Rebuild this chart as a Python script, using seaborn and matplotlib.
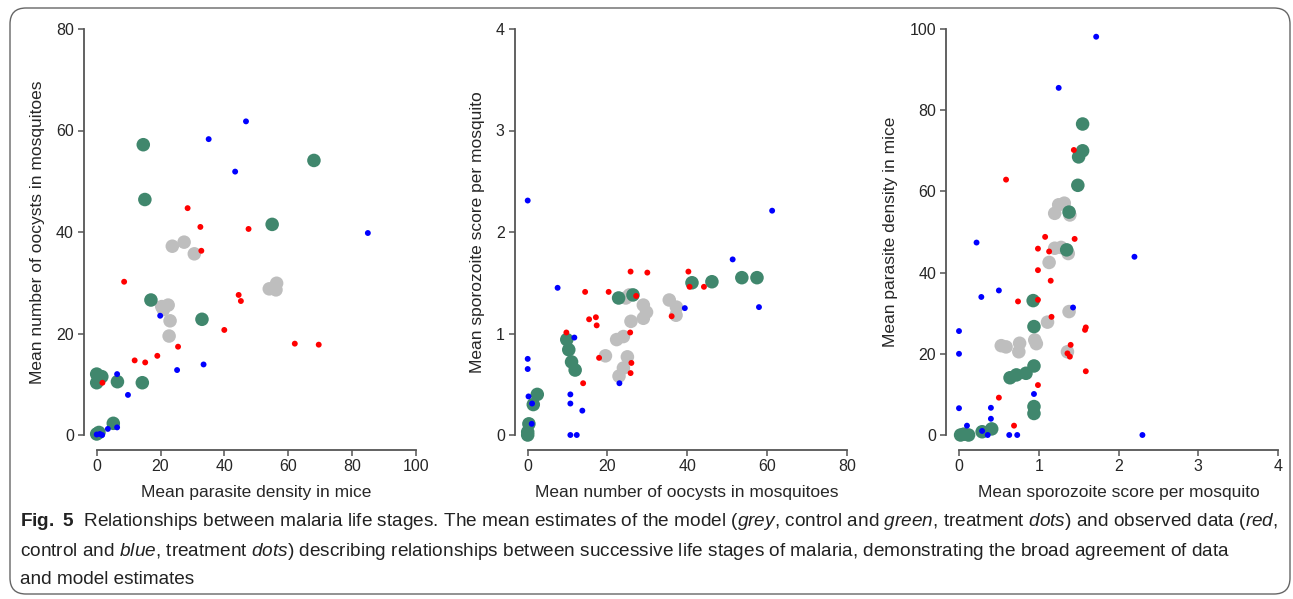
import matplotlib as mpl
mpl.use("Agg")
import matplotlib.pyplot as plt
import seaborn as sns
import pandas as pd
from matplotlib import font_manager
from matplotlib.patches import FancyBboxPatch

# panel 1: parasite density in mice (x) vs oocysts in mosquitoes (y)
p1_grey = [(23.7, 37.2), (27.4, 38.0), (30.6, 35.7), (54.1, 28.8), (56.4, 29.9), (56.2, 28.6),
           (20.4, 25.3), (22.4, 25.6), (20.9, 24.7), (23.0, 22.5), (22.7, 19.5)]
p1_green = [(14.6, 57.2), (15.1, 46.4), (68.1, 54.1), (55.0, 41.5), (17.0, 26.6), (33.0, 22.8),
            (0.0, 12.0), (1.6, 11.5), (0.0, 10.3), (6.5, 10.5), (14.3, 10.3), (5.2, 2.3),
            (0.0, 0.2), (0.7, 0.5)]
p1_red = [(28.5, 44.7), (32.5, 41.0), (47.6, 40.6), (32.8, 36.3), (8.6, 30.2), (44.5, 27.6),
          (45.2, 26.4), (40.0, 20.7), (62.1, 18.0), (69.6, 17.8), (25.5, 17.4), (19.0, 15.6),
          (11.9, 14.7), (15.2, 14.3), (1.8, 10.3)]
p1_blue = [(46.8, 61.8), (35.1, 58.3), (43.4, 51.9), (85.0, 39.8), (19.9, 23.5), (33.5, 13.9),
           (25.2, 12.8), (6.4, 12.0), (9.8, 7.9), (6.4, 1.5), (3.5, 1.2), (0.0, 0.1),
           (1.0, 0.2), (1.7, 0.0)]

# panel 2: oocysts in mosquitoes (x) vs sporozoite score (y)
p2_grey = [(24.6, 1.35), (25.5, 1.38), (29.0, 1.28), (29.8, 1.21), (29.0, 1.15), (25.9, 1.12),
           (35.5, 1.33), (37.3, 1.26), (37.2, 1.18), (24.0, 0.97), (22.3, 0.94), (19.5, 0.78),
           (25.0, 0.77), (24.0, 0.66), (22.9, 0.58)]
p2_green = [(41.2, 1.50), (46.2, 1.51), (53.7, 1.55), (57.5, 1.55), (22.8, 1.35), (26.4, 1.38),
            (9.8, 0.94), (10.3, 0.84), (11.0, 0.72), (11.9, 0.64), (2.4, 0.40), (1.4, 0.30),
            (0.3, 0.11), (0.0, 0.03), (0.0, 0.0)]
p2_red = [(25.8, 1.61), (30.0, 1.60), (40.3, 1.61), (40.6, 1.46), (44.2, 1.46), (14.4, 1.41),
          (20.3, 1.41), (27.2, 1.37), (36.1, 1.17), (15.4, 1.14), (17.1, 1.16), (17.3, 1.08),
          (9.7, 1.01), (25.7, 1.01), (17.9, 0.76), (26.0, 0.71), (25.8, 0.61), (13.9, 0.51)]
p2_blue = [(0.0, 2.31), (61.3, 2.21), (51.4, 1.73), (7.5, 1.45), (39.4, 1.25), (58.0, 1.26),
           (11.7, 0.96), (23.0, 0.51), (0.0, 0.75), (0.0, 0.65), (0.2, 0.38), (1.1, 0.31),
           (10.7, 0.40), (10.7, 0.31), (13.7, 0.24), (10.7, 0.0), (12.3, 0.0), (1.0, 0.11)]

# panel 3: sporozoite score (x) vs parasite density in mice (y)
p3_grey = [(1.20, 54.6), (1.25, 56.7), (1.32, 57.1), (1.39, 54.2), (1.20, 46.0), (1.28, 46.2),
           (1.37, 44.7), (1.13, 42.5), (1.38, 30.4), (1.11, 27.8), (0.59, 21.7), (0.53, 22.0),
           (0.76, 22.6), (0.75, 20.5), (0.95, 23.4), (0.97, 22.5), (1.36, 20.5)]
p3_green = [(1.55, 76.6), (1.55, 70.0), (1.50, 68.5), (1.49, 61.5), (1.38, 54.9), (1.35, 45.6),
            (0.93, 33.1), (0.94, 26.7), (0.94, 17.0), (0.84, 15.2), (0.72, 14.8), (0.64, 14.1),
            (0.94, 7.0), (0.94, 5.3), (0.41, 1.5), (0.29, 0.8), (0.02, 0.0), (0.12, 0.0),
            (0.06, 0.2)]
p3_red = [(1.44, 70.2), (0.59, 62.9), (1.08, 48.8), (1.45, 48.3), (0.99, 45.9), (1.13, 45.2),
          (0.99, 40.6), (1.15, 38.0), (0.74, 32.9), (0.99, 33.3), (1.16, 29.1), (1.59, 26.5),
          (1.58, 25.9), (1.40, 22.2), (1.36, 20.1), (1.39, 19.3), (1.59, 15.7), (0.99, 12.3),
          (0.50, 9.2), (0.69, 2.3)]
p3_blue = [(1.72, 98.1), (1.25, 85.5), (0.22, 47.4), (2.20, 43.9), (0.50, 35.6), (0.28, 34.0),
           (1.43, 31.4), (0.0, 25.6), (0.0, 20.0), (0.94, 10.1), (0.0, 6.6), (0.40, 6.7),
           (0.40, 4.0), (0.10, 2.3), (0.29, 1.0), (0.36, 0.0), (0.63, 0.0), (0.73, 0.0),
           (2.30, 0.0)]

x_labels = ["Mean parasite density in mice", "Mean number of oocysts in mosquitoes",
            "Mean sporozoite score per mosquito"]
y_labels = ["Mean number of oocysts in mosquitoes", "Mean sporozoite score per mosquito",
            "Mean parasite density in mice"]
x_ticks = [[0, 20, 40, 60, 80, 100], [0, 20, 40, 60, 80], [0, 1, 2, 3, 4]]
y_ticks = [[0, 20, 40, 60, 80], [0, 1, 2, 3, 4], [0, 20, 40, 60, 80, 100]]

panels = [
    {"grey": p1_grey, "green": p1_green, "red": p1_red, "blue": p1_blue},
    {"grey": p2_grey, "green": p2_green, "red": p2_red, "blue": p2_blue},
    {"grey": p3_grey, "green": p3_green, "red": p3_red, "blue": p3_blue},
]

styles = {
    "grey": dict(color="#bebebe", s=95),
    "green": dict(color="#40876d", s=95),
    "red": dict(color="#ff0000", s=18),
    "blue": dict(color="#0000ff", s=18),
}

sns.set_style("ticks")
plt.rcParams['font.family'] = ['Liberation Sans', 'DejaVu Sans']

fig = plt.figure(figsize=(12.93, 5.99), dpi=100)
W, H = 1293, 599
lefts = [96.7, 527.7, 959.0]
ax_w = 319.0
ax_bottom, ax_top = 435.0, 29.0

spine_col = "#555555"
for i, groups in enumerate(panels):
    ax = fig.add_axes([lefts[i] / W, 1 - ax_bottom / H, ax_w / W, (ax_bottom - ax_top) / H])
    for name in ["grey", "green", "red", "blue"]:
        df = pd.DataFrame(groups[name], columns=["x", "y"])
        sns.scatterplot(data=df, x="x", y="y", ax=ax, color=styles[name]["color"],
                        s=styles[name]["s"], edgecolor="none", linewidth=0, marker="o")
    ax.set_xlim(x_ticks[i][0], x_ticks[i][-1])
    ax.set_ylim(y_ticks[i][0], y_ticks[i][-1])
    ax.set_xticks(x_ticks[i])
    ax.set_yticks(y_ticks[i])
    sns.despine(ax=ax)
    ax.spines["left"].set_position(("outward", 9.5))
    ax.spines["bottom"].set_position(("outward", 10.5))
    ax.spines["left"].set_bounds(y_ticks[i][0], y_ticks[i][-1])
    ax.spines["bottom"].set_bounds(x_ticks[i][0], x_ticks[i][-1])
    for sp in ["left", "bottom"]:
        ax.spines[sp].set_color(spine_col)
        ax.spines[sp].set_linewidth(1.3)
    ax.tick_params(length=4, width=1.1, color=spine_col, labelsize=11.5, pad=3)
    ax.set_xlabel(x_labels[i], fontsize=12.5, labelpad=8)
    ax.set_ylabel(y_labels[i], fontsize=12.5, labelpad=8)
    for c in ax.collections:
        c.set_clip_on(False)

# rounded frame around the figure (in inches so the corners stay round)
frame = FancyBboxPatch((0.10, 0.05), 12.80, 5.86,
                       boxstyle="round,pad=0,rounding_size=0.16",
                       transform=fig.dpi_scale_trans, fill=False, edgecolor="#666666",
                       linewidth=1.0)
fig.patches.append(frame)

# caption
names = {f.name for f in font_manager.fontManager.ttflist}
cap_font = "Liberation Sans Narrow" if "Liberation Sans Narrow" in names else "Liberation Sans"
plt.rcParams['mathtext.fontset'] = 'custom'
plt.rcParams['mathtext.rm'] = cap_font
plt.rcParams['mathtext.it'] = cap_font + ":italic"
plt.rcParams['mathtext.bf'] = cap_font + ":bold"

lines = [
    r"$\mathbf{Fig.\ 5}$  Relationships between malaria life stages. The mean estimates of the model "
    r"($\mathit{grey}$, control and $\mathit{green}$, treatment $\mathit{dots}$) and observed data ($\mathit{red}$,",
    r"control and $\mathit{blue}$, treatment $\mathit{dots}$) describing relationships between successive "
    r"life stages of malaria, demonstrating the broad agreement of data",
    "and model estimates",
]
line_y = [521, 551, 580]
texts = []
for txt, yy in zip(lines, line_y):
    t = fig.text(20 / W, 1 - yy / H, txt, family=cap_font, fontsize=12, va="center", ha="left",
                 color="#222222")
    texts.append(t)

fig.canvas.draw()
r = fig.canvas.get_renderer()
w0 = texts[0].get_window_extent(r).width
scale = 1255.0 / w0
for t in texts:
    t.set_fontsize(12 * scale)

fig.savefig("out.png", dpi=100)
